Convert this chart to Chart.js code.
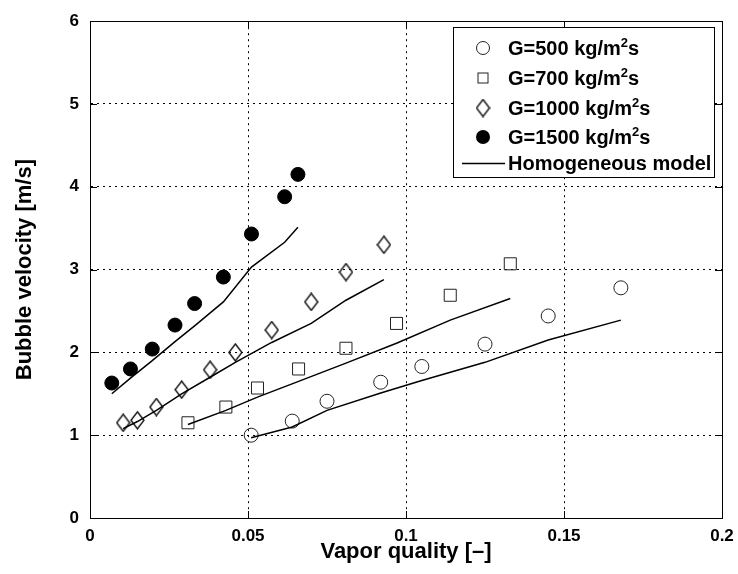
<!DOCTYPE html>
<html lang="en">
<head>
<meta charset="UTF-8">
<title>Bubble velocity vs vapor quality</title>
<script src="https://cdn.jsdelivr.net/npm/chart.js"></script>
<style>
    html, body { margin: 0; padding: 0; background: #ffffff; }
    #wrap { width: 738px; height: 574px; }
</style>
</head>
<body>
<div id="wrap"><canvas id="bubbleChart" width="738" height="574"></canvas></div>
<script>
// vapor quality, measured bubble velocity and homogeneous model for each mass flux
const q500 = [0.051, 0.064, 0.075, 0.092, 0.105, 0.125, 0.145, 0.168];
const u500 = [1.00, 1.17, 1.41, 1.64, 1.83, 2.10, 2.44, 2.78];
const h500 = [0.97, 1.10, 1.30, 1.51, 1.66, 1.88, 2.15, 2.39];

const q700 = [0.031, 0.043, 0.053, 0.066, 0.081, 0.097, 0.114, 0.133];
const u700 = [1.15, 1.34, 1.57, 1.80, 2.05, 2.35, 2.69, 3.07];
const h700 = [1.13, 1.30, 1.46, 1.65, 1.87, 2.11, 2.39, 2.65];

const q1000 = [0.0105, 0.015, 0.021, 0.029, 0.038, 0.046, 0.0575, 0.070, 0.081, 0.093];
const u1000 = [1.15, 1.18, 1.34, 1.55, 1.79, 2.00, 2.27, 2.61, 2.97, 3.30];
const h1000 = [1.08, 1.165, 1.30, 1.50, 1.70, 1.88, 2.12, 2.35, 2.63, 2.88];

const q1500 = [0.0069, 0.0128, 0.0197, 0.0269, 0.0331, 0.0422, 0.0511, 0.0616, 0.0658];
const u1500 = [1.63, 1.80, 2.04, 2.33, 2.59, 2.91, 3.43, 3.88, 4.15];
const h1500 = [1.50, 1.69, 1.90, 2.13, 2.32, 2.61, 3.03, 3.33, 3.51];

const xTickLabels = ['0', '0.05', '0.1', '0.15', '0.2'];
const yTickLabels = ['0', '1', '2', '3', '4', '5', '6'];
const legendLabels = ['G=500 kg/m', 'G=700 kg/m', 'G=1000 kg/m', 'G=1500 kg/m'];
const modelLabel = 'Homogeneous model';

const FONT = "'Liberation Sans', Arial, Helvetica, sans-serif";
const MARK = '#222222';

function pairs(xs, ys) {
    return xs.map((x, i) => ({ x: x, y: ys[i] }));
}

// tall open diamond (Chart.js rectRot is always square)
function makeDiamond(w, h) {
    const c = document.createElement('canvas');
    c.width = w + 2;
    c.height = h + 2;
    const g = c.getContext('2d');
    g.strokeStyle = '#111111';
    g.lineWidth = 1.4;
    g.beginPath();
    g.moveTo(c.width / 2, 1);
    g.lineTo(c.width - 1, c.height / 2);
    g.lineTo(c.width / 2, c.height - 1);
    g.lineTo(1, c.height / 2);
    g.closePath();
    g.stroke();
    return c;
}
const diamond = makeDiamond(13, 17);

function markerSet(label, xs, ys, style, radius, fill) {
    return {
        label: label,
        data: pairs(xs, ys),
        showLine: false,
        pointStyle: style,
        pointRadius: radius,
        pointBorderWidth: 1,
        pointBorderColor: fill ? '#000000' : MARK,
        pointBackgroundColor: fill ? '#000000' : 'rgba(0,0,0,0)'
    };
}

function modelSet(xs, ys) {
    return {
        label: modelLabel,
        data: pairs(xs, ys),
        showLine: true,
        borderColor: '#000000',
        borderWidth: 1.5,
        pointRadius: 0,
        tension: 0
    };
}

const datasets = [
    modelSet(q500, h500),
    modelSet(q700, h700),
    modelSet(q1000, h1000),
    modelSet(q1500, h1500),
    markerSet(legendLabels[0], q500, u500, 'circle', 7, false),
    markerSet(legendLabels[1], q700, u700, 'rect', 8.5, false),
    markerSet(legendLabels[2], q1000, u1000, diamond, 8, false),
    markerSet(legendLabels[3], q1500, u1500, 'circle', 7, true)
];

// box, inward tick marks and legend drawn over the plot
const framePlugin = {
    id: 'frame',
    afterDraw(chart) {
        const ctx = chart.ctx;
        const a = chart.chartArea;
        const xs = chart.scales.x;
        const ys = chart.scales.y;
        const tl = 7;
        ctx.save();
        ctx.strokeStyle = '#000000';
        ctx.lineWidth = 1;
        ctx.setLineDash([]);
        ctx.beginPath();
        xs.ticks.forEach(t => {
            const px = Math.round(xs.getPixelForValue(t.value)) + 0.5;
            ctx.moveTo(px, a.bottom); ctx.lineTo(px, a.bottom - tl);
            ctx.moveTo(px, a.top); ctx.lineTo(px, a.top + tl);
        });
        ys.ticks.forEach(t => {
            const py = Math.round(ys.getPixelForValue(t.value)) + 0.5;
            ctx.moveTo(a.left, py); ctx.lineTo(a.left + tl, py);
            ctx.moveTo(a.right, py); ctx.lineTo(a.right - tl, py);
        });
        ctx.stroke();
        ctx.strokeRect(Math.round(a.left) + 0.5, Math.round(a.top) + 0.5,
            Math.round(a.right - a.left), Math.round(a.bottom - a.top));

        // legend
        const bx = 453.5, by = 27.5, bw = 261, bh = 150;
        ctx.fillStyle = '#ffffff';
        ctx.fillRect(bx, by, bw, bh);
        ctx.strokeRect(bx, by, bw, bh);

        const mx = 483, tx = 508;
        const rows = [48, 78, 108, 137];
        ctx.lineWidth = 1;
        // open circle
        ctx.strokeStyle = MARK;
        ctx.beginPath();
        ctx.arc(mx, rows[0], 6.5, 0, Math.PI * 2);
        ctx.stroke();
        // open square
        ctx.strokeRect(mx - 5, rows[1] - 5, 10, 10);
        // diamond
        ctx.drawImage(diamond, mx - diamond.width / 2, rows[2] - diamond.height / 2);
        // filled circle
        ctx.fillStyle = '#000000';
        ctx.beginPath();
        ctx.arc(mx, rows[3], 7, 0, Math.PI * 2);
        ctx.fill();

        ctx.fillStyle = '#000000';
        ctx.textBaseline = 'alphabetic';
        ctx.textAlign = 'left';
        legendLabels.forEach((txt, i) => {
            const base = rows[i] + 7;
            ctx.font = 'bold 20px ' + FONT;
            ctx.fillText(txt, tx, base);
            let w = ctx.measureText(txt).width;
            ctx.font = 'bold 13px ' + FONT;
            ctx.fillText('2', tx + w, base - 8);
            const w2 = ctx.measureText('2').width;
            ctx.font = 'bold 20px ' + FONT;
            ctx.fillText('s', tx + w + w2, base);
        });
        // model line sample
        ctx.strokeStyle = '#000000';
        ctx.lineWidth = 1.5;
        ctx.beginPath();
        ctx.moveTo(462, 163.5);
        ctx.lineTo(505, 163.5);
        ctx.stroke();
        ctx.font = 'bold 20px ' + FONT;
        ctx.fillText(modelLabel, tx, 170);
        ctx.restore();
    }
};

const ctx = document.getElementById('bubbleChart').getContext('2d');
const bubbleChart = new Chart(ctx, {
    type: 'scatter',
    data: { datasets: datasets },
    options: {
        responsive: false,
        animation: false,
        devicePixelRatio: 1,
        layout: { padding: { left: 0, right: 16, top: 20, bottom: 0 } },
        plugins: {
            legend: { display: false },
            tooltip: { enabled: false }
        },
        scales: {
            x: {
                type: 'linear',
                min: 0,
                max: 0.2,
                afterFit: s => { s.height = 56; s.paddingLeft = 0; s.paddingRight = 0; },
                grid: { color: '#000000', lineWidth: 1, drawTicks: false },
                border: { display: true, color: '#000000', width: 1, dash: [2, 4] },
                ticks: {
                    stepSize: 0.05,
                    padding: 8,
                    color: '#000000',
                    font: { family: FONT, size: 17, weight: 'bold' },
                    callback: (v, i) => xTickLabels[i]
                },
                title: {
                    display: true,
                    text: 'Vapor quality [\u2013]',
                    color: '#000000',
                    font: { family: FONT, size: 22, weight: 'bold' },
                    padding: { top: 0, bottom: 9 }
                }
            },
            y: {
                type: 'linear',
                min: 0,
                max: 6,
                afterFit: s => { s.width = 90; },
                grid: { color: '#000000', lineWidth: 1, drawTicks: false },
                border: { display: true, color: '#000000', width: 1, dash: [2, 4] },
                ticks: {
                    stepSize: 1,
                    padding: 11,
                    color: '#000000',
                    font: { family: FONT, size: 17, weight: 'bold' },
                    callback: (v, i) => yTickLabels[i]
                },
                title: {
                    display: true,
                    text: 'Bubble velocity [m/s]',
                    color: '#000000',
                    font: { family: FONT, size: 22, weight: 'bold' },
                    padding: { top: 12, bottom: 0 }
                }
            }
        }
    },
    plugins: [framePlugin]
});
</script>
</body>
</html>
